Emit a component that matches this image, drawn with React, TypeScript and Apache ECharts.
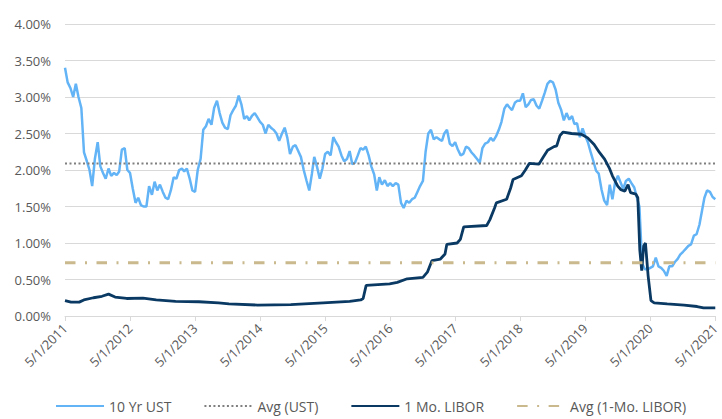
import React, { useEffect, useRef } from "react";
import * as echarts from "echarts";

// X axis tick labels (one per year, May 1st)
const xTickLabels = [
  "5/1/2011", "5/1/2012", "5/1/2013", "5/1/2014", "5/1/2015", "5/1/2016",
  "5/1/2017", "5/1/2018", "5/1/2019", "5/1/2020", "5/1/2021",
];

// 10 Yr UST, semi-monthly readings (1st and 16th of each month) from 5/1/2011 to 5/1/2021
const ustValues = [
  3.40, 3.20, 3.12, 3.00, 3.18, 3.00, 2.85, 2.24, 2.12, 2.00,
  1.78, 2.15, 2.38, 2.05, 1.96, 1.88, 2.02, 1.92, 1.96, 1.93,
  1.98, 2.28, 2.30, 2.00, 1.96, 1.75, 1.55, 1.62, 1.52, 1.50,
  1.50, 1.78, 1.66, 1.84, 1.72, 1.80, 1.70, 1.62, 1.60, 1.72,
  1.90, 1.88, 2.00, 2.02, 1.98, 2.02, 1.88, 1.72, 1.70, 2.00,
  2.15, 2.55, 2.60, 2.70, 2.62, 2.85, 2.95, 2.78, 2.65, 2.58,
  2.56, 2.75, 2.82, 2.88, 3.02, 2.90, 2.70, 2.74, 2.68, 2.74,
  2.78, 2.72, 2.66, 2.62, 2.50, 2.62, 2.58, 2.55, 2.50, 2.40,
  2.50, 2.58, 2.44, 2.22, 2.32, 2.34, 2.26, 2.18, 2.00, 1.86,
  1.72, 1.95, 2.18, 2.05, 1.88, 2.02, 2.22, 2.25, 2.20, 2.45,
  2.38, 2.32, 2.20, 2.12, 2.15, 2.26, 2.08, 2.10, 2.20, 2.30,
  2.28, 2.32, 2.20, 2.05, 1.94, 1.72, 1.90, 1.80, 1.86, 1.78,
  1.82, 1.78, 1.82, 1.80, 1.55, 1.48, 1.58, 1.55, 1.60, 1.62,
  1.70, 1.78, 1.85, 2.25, 2.50, 2.55, 2.42, 2.45, 2.42, 2.40,
  2.50, 2.55, 2.36, 2.33, 2.38, 2.28, 2.20, 2.22, 2.32, 2.30,
  2.24, 2.20, 2.15, 2.10, 2.30, 2.36, 2.38, 2.44, 2.40, 2.46,
  2.55, 2.66, 2.84, 2.90, 2.86, 2.82, 2.92, 2.95, 2.95, 3.05,
  2.86, 2.90, 2.96, 2.97, 2.88, 2.84, 2.95, 3.06, 3.18, 3.22,
  3.20, 3.10, 2.92, 2.83, 2.68, 2.78, 2.69, 2.74, 2.63, 2.64,
  2.45, 2.57, 2.47, 2.38, 2.24, 2.12, 1.99, 1.95, 1.73, 1.58,
  1.52, 1.80, 1.60, 1.83, 1.92, 1.83, 1.74, 1.85, 1.88, 1.82,
  1.76, 1.62, 1.50, 0.72, 0.64, 0.64, 0.66, 0.68, 0.80, 0.68,
  0.66, 0.62, 0.55, 0.68, 0.68, 0.74, 0.78, 0.84, 0.88, 0.92,
  0.96, 0.98, 1.10, 1.12, 1.25, 1.45, 1.62, 1.72, 1.70, 1.63, 1.60,
];

// 1 Mo. LIBOR readings
const liborDates = [
  "2011-05-01", "2011-06-04", "2011-07-20", "2011-08-15", "2011-10-08", "2011-11-25",
  "2012-01-01", "2012-02-07", "2012-04-12", "2012-07-13", "2012-09-25", "2013-01-12",
  "2013-05-23", "2013-09-10", "2013-11-07", "2014-04-17", "2014-10-20", "2015-04-20",
  "2015-09-16", "2015-11-17", "2015-12-01", "2015-12-18", "2016-04-28", "2016-06-10",
  "2016-08-05", "2016-11-01", "2016-11-26", "2016-12-22", "2017-02-07", "2017-03-05",
  "2017-03-15", "2017-05-12", "2017-05-30", "2017-06-18", "2017-10-25", "2017-11-12",
  "2017-12-08", "2017-12-18", "2018-02-14", "2018-03-08", "2018-03-22", "2018-05-08",
  "2018-05-30", "2018-06-21", "2018-08-14", "2018-09-06", "2018-10-02", "2018-11-07",
  "2018-11-22", "2018-12-10", "2018-12-28", "2019-02-13", "2019-04-09", "2019-05-15",
  "2019-06-20", "2019-07-20", "2019-08-18", "2019-09-13", "2019-10-01", "2019-10-31",
  "2019-11-18", "2019-12-10", "2019-12-28", "2020-01-11", "2020-02-10", "2020-02-21",
  "2020-03-03", "2020-03-14", "2020-03-25", "2020-04-04", "2020-04-19", "2020-05-05",
  "2020-05-23", "2020-08-04", "2020-11-07", "2021-01-19", "2021-02-24", "2021-05-01",
];
const liborValues = [
  0.21, 0.19, 0.19, 0.22, 0.25, 0.27,
  0.30, 0.26, 0.24, 0.245, 0.22, 0.20,
  0.195, 0.18, 0.165, 0.15, 0.155, 0.18,
  0.20, 0.22, 0.24, 0.42, 0.44, 0.46,
  0.51, 0.53, 0.60, 0.76, 0.78, 0.85,
  0.98, 1.00, 1.05, 1.22, 1.24, 1.32,
  1.48, 1.55, 1.60, 1.75, 1.87, 1.92,
  2.00, 2.09, 2.08, 2.17, 2.27, 2.32,
  2.33, 2.47, 2.52, 2.50, 2.49, 2.44,
  2.35, 2.24, 2.15, 2.03, 1.92, 1.78,
  1.73, 1.71, 1.80, 1.69, 1.67, 1.62,
  0.91, 0.62, 0.96, 1.00, 0.55, 0.21,
  0.18, 0.165, 0.15, 0.13, 0.11, 0.11,
];

const avgUst = 2.09;
const avgLibor = 0.73;

const seriesNames = ["10 Yr UST", "Avg (UST)", "1 Mo. LIBOR", "Avg (1-Mo. LIBOR)"];

function parseDate(s: string): Date {
  const [y, m, d] = s.split("-").map(Number);
  return new Date(y, m - 1, d);
}

// Years since 5/1/2011, with each May 1st landing on an integer
function toX(d: Date): number {
  let y = d.getFullYear();
  let anchor = new Date(y, 4, 1);
  if (d.getTime() < anchor.getTime()) {
    y -= 1;
    anchor = new Date(y, 4, 1);
  }
  const next = new Date(y + 1, 4, 1);
  return y - 2011 + (d.getTime() - anchor.getTime()) / (next.getTime() - anchor.getTime());
}

function ustDate(i: number): Date {
  const m = 4 + Math.floor(i / 2);
  return new Date(2011 + Math.floor(m / 12), m % 12, i % 2 ? 16 : 1);
}

const FONT = "'Open Sans', sans-serif";
const TEXT = "#595959";

export default function App() {
  const ref = useRef<HTMLDivElement>(null);
  useEffect(() => {
    document.body.style.margin = "0";
    if (!ref.current) return;
    const chart = echarts.init(ref.current, undefined, { renderer: "svg" });
    const ustData = ustValues.map((v, i) => [toX(ustDate(i)), v]);
    const liborData = liborValues.map((v, i) => [toX(parseDate(liborDates[i])), v]);
    const xMax = xTickLabels.length - 1;
    chart.setOption({
      animation: false,
      textStyle: { fontFamily: FONT },
      grid: { left: 65, right: 2, top: 24, bottom: 103, containLabel: false },
      xAxis: {
        type: "value",
        min: 0,
        max: xMax,
        interval: 1,
        axisLine: { show: true, lineStyle: { color: "#d9d9d9", width: 1 } },
        axisTick: { show: true, length: 5, lineStyle: { color: "#d9d9d9" } },
        splitLine: { show: false },
        axisLabel: {
          rotate: 45,
          color: TEXT,
          fontSize: 13,
          fontFamily: FONT,
          margin: 10,
          formatter: (v: number) => xTickLabels[Math.round(v)] ?? "",
        },
      },
      yAxis: {
        type: "value",
        min: 0,
        max: 4,
        interval: 0.5,
        axisLine: { show: false },
        axisTick: { show: false },
        splitLine: { lineStyle: { color: "#d9d9d9", width: 1 } },
        axisLabel: {
          color: TEXT,
          fontSize: 13,
          fontFamily: FONT,
          margin: 14,
          formatter: (v: number) => v.toFixed(2) + "%",
        },
      },
      legend: {
        data: seriesNames,
        left: 55,
        top: 397,
        itemWidth: 48,
        itemHeight: 14,
        itemGap: 32,
        padding: 0,
        itemStyle: { opacity: 0 },
        textStyle: { color: TEXT, fontSize: 14, fontFamily: FONT, lineHeight: 18 },
      },
      series: [
        {
          name: seriesNames[0],
          type: "line",
          data: ustData,
          symbol: "none",
          lineStyle: { color: "#63b4f6", width: 2.5 },
          itemStyle: { color: "#63b4f6" },
          z: 2,
        },
        {
          name: seriesNames[1],
          type: "line",
          data: [[0, avgUst], [xMax, avgUst]],
          symbol: "none",
          lineStyle: { color: "#7f7f7f", width: 2, type: [2, 2.5] },
          itemStyle: { color: "#7f7f7f" },
          z: 3,
        },
        {
          name: seriesNames[2],
          type: "line",
          data: liborData,
          symbol: "none",
          lineStyle: { color: "#0a3a63", width: 2.8 },
          itemStyle: { color: "#0a3a63" },
          z: 4,
        },
        {
          name: seriesNames[3],
          type: "line",
          data: [[0, avgLibor], [xMax, avgLibor]],
          symbol: "none",
          lineStyle: { color: "#c9b98c", width: 3, type: [10.5, 9.5, 2, 9.5] },
          itemStyle: { color: "#c9b98c" },
          z: 5,
        },
      ],
    });
    return () => chart.dispose();
  }, []);
  return <div ref={ref} style={{ width: 722, height: 419 }} />;
}
